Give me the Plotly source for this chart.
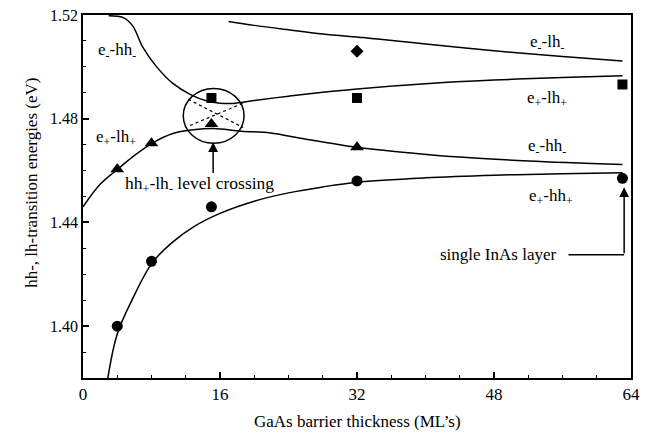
import plotly.graph_objects as go

# ---- data ----
# measured points
circ_x = [4, 8, 15, 32, 63]
circ_y = [1.400, 1.425, 1.446, 1.456, 1.457]
tri_x = [4, 8, 15, 32]
tri_y = [1.4605, 1.4705, 1.478, 1.469]
sq_x = [15, 32, 63]
sq_y = [1.488, 1.488, 1.4932]
dia_x = [32]
dia_y = [1.506]

# calculated curves
c1_x = [3, 4.7, 5.8, 7.0, 8.6, 10.5, 12.5, 14.5, 16, 17.5, 20, 24, 28, 32, 40, 48, 56, 63]
c1_y = [1.5197, 1.519, 1.5158, 1.5075, 1.500, 1.4936, 1.4894, 1.4868, 1.486, 1.4859, 1.4870,
        1.4887, 1.4902, 1.4915, 1.4935, 1.4949, 1.4959, 1.4966]
c2_x = [17, 20, 24, 28, 32.7, 34.7, 40, 48, 56, 63]
c2_y = [1.5175, 1.5160, 1.5143, 1.5127, 1.5113, 1.5106, 1.5088, 1.5062, 1.5040, 1.5023]
c3_x = [0, 2, 4, 5.8, 8.1, 10.5, 12.9, 15.2, 18.5, 21.9, 25.4, 32, 37, 44, 52, 63]
c3_y = [1.446, 1.4547, 1.4604, 1.4653, 1.4706, 1.4743, 1.4757, 1.4762, 1.4752, 1.4745,
        1.4725, 1.469, 1.4672, 1.4652, 1.4637, 1.4623]
c4_x = [2.9, 4, 5.8, 8.1, 10.5, 13, 16, 20, 24, 28, 32, 40, 48, 56, 63]
c4_y = [1.380, 1.397, 1.4106, 1.4245, 1.4325, 1.4385, 1.4435, 1.4482, 1.4514, 1.4537,
        1.4555, 1.4572, 1.4582, 1.4588, 1.4592]

# dotted crossing lines
dotA_x = [12.3, 18.7]
dotA_y = [1.4875, 1.4766]
dotB_x = [12.5, 18.7]
dotB_y = [1.4774, 1.4860]

# tick setup
x_ticks = [0, 16, 32, 48, 64]
y_ticks = [1.40, 1.44, 1.48, 1.52]
y_ticktext = ["1.40", "1.44", "1.48", "1.52"]

# curve labels: (text, x, y)
labels = [
    ("e<sub>-</sub>-hh<sub>-</sub>", 4.0, 1.5062),
    ("e<sub>+</sub>-lh<sub>+</sub>", 3.9, 1.4726),
    ("e<sub>-</sub>-lh<sub>-</sub>", 54.2, 1.5092),
    ("e<sub>+</sub>-lh<sub>+</sub>", 54.2, 1.4877),
    ("e<sub>-</sub>-hh<sub>-</sub>", 54.2, 1.4689),
    ("e<sub>+</sub>-hh<sub>+</sub>", 54.6, 1.4500),
]

FONT = "Liberation Serif"

fig = go.Figure()
line = dict(color="black", width=1.5, shape="spline", smoothing=1.0)
for cx, cy in [(c1_x, c1_y), (c2_x, c2_y), (c3_x, c3_y), (c4_x, c4_y)]:
    fig.add_trace(go.Scatter(x=cx, y=cy, mode="lines", line=line, hoverinfo="skip"))
for dx, dy in [(dotA_x, dotA_y), (dotB_x, dotB_y)]:
    fig.add_trace(go.Scatter(x=dx, y=dy, mode="lines",
                             line=dict(color="black", width=1.2, dash="dot")))

fig.add_trace(go.Scatter(x=circ_x, y=circ_y, mode="markers",
                         marker=dict(symbol="circle", size=11, color="black")))
fig.add_trace(go.Scatter(x=tri_x, y=tri_y, mode="markers",
                         marker=dict(symbol="triangle-up", size=12, color="black")))
fig.add_trace(go.Scatter(x=sq_x, y=sq_y, mode="markers",
                         marker=dict(symbol="square", size=10, color="black")))
fig.add_trace(go.Scatter(x=dia_x, y=dia_y, mode="markers",
                         marker=dict(symbol="diamond", size=10, color="black")))

# circle around crossing
cx0, cy0, rx, ry = 15.26, 1.4811, 3.55, 0.0106
fig.add_shape(type="circle", xref="x", yref="y", x0=cx0 - rx, x1=cx0 + rx,
              y0=cy0 - ry, y1=cy0 + ry, line=dict(color="black", width=1.5))

# arrow: level crossing
fig.add_annotation(x=15.2, y=1.4709, ax=15.2, ay=1.4585, axref="x", ayref="y",
                   xref="x", yref="y", text="", showarrow=True, arrowhead=2,
                   arrowsize=1.3, arrowwidth=1.5, arrowcolor="black")
fig.add_annotation(x=13.6, y=1.4545, xref="x", yref="y",
                   text="hh<sub>+</sub>-lh<sub>-</sub> level crossing",
                   showarrow=False, font=dict(family=FONT, size=17.5, color="black"))

# single InAs layer
fig.add_annotation(x=63.2, y=1.4536, ax=63.2, ay=1.4275, axref="x", ayref="y",
                   xref="x", yref="y", text="", showarrow=True, arrowhead=2,
                   arrowsize=1.3, arrowwidth=1.5, arrowcolor="black")
fig.add_shape(type="line", xref="x", yref="y", x0=56.7, x1=63.2, y0=1.4275, y1=1.4275,
              line=dict(color="black", width=1.5))
fig.add_annotation(x=48.5, y=1.4275, xref="x", yref="y", text="single InAs layer",
                   showarrow=False, font=dict(family=FONT, size=17, color="black"))

for t, lx, ly in labels:
    fig.add_annotation(x=lx, y=ly, xref="x", yref="y", text=t, showarrow=False,
                       font=dict(family=FONT, size=17, color="black"))

# axis titles
fig.add_annotation(x=-0.115, y=0.539, xref="paper", yref="paper",
                   text="hh-, lh-transition energies (eV)", textangle=-90,
                   showarrow=False, font=dict(family=FONT, size=17, color="black"))
fig.add_annotation(x=0.5, y=-0.121, xref="paper", yref="paper",
                   text="GaAs barrier thickness (ML’s)", showarrow=False,
                   yanchor="middle", font=dict(family=FONT, size=17, color="black"))

fig.update_layout(
    width=650, height=443, showlegend=False,
    margin=dict(l=83, r=19, t=7, b=65),
    plot_bgcolor="white", paper_bgcolor="white",
    font=dict(family=FONT, size=16, color="black"),
)
fig.update_xaxes(range=[0, 64], tickvals=x_ticks, ticks="inside", ticklen=6,
                 tickwidth=1.5, tickcolor="black", showline=True, linecolor="black",
                 linewidth=1.5, mirror=True, showgrid=False, zeroline=False,
                 ticklabeloverflow="allow",
                 minor=dict(dtick=4, tick0=0, ticks="inside", ticklen=3,
                            tickwidth=1.2, tickcolor="black"),
                 tickfont=dict(family=FONT, size=17, color="black"))
fig.update_yaxes(range=[1.38, 1.52], tickvals=y_ticks, ticktext=y_ticktext,
                 ticks="inside", ticklen=6, tickwidth=1.5, tickcolor="black",
                 showline=True, linecolor="black", linewidth=1.5, mirror=True,
                 showgrid=False, zeroline=False, ticklabeloverflow="allow",
                 minor=dict(dtick=0.01, tick0=1.38, ticks="inside", ticklen=3,
                            tickwidth=1.2, tickcolor="black"),
                 tickfont=dict(family=FONT, size=16, color="black"))

fig.write_html("out.html", config={"displayModeBar": False},
               post_script="document.body.style.margin='0';document.body.style.overflow='hidden';")
